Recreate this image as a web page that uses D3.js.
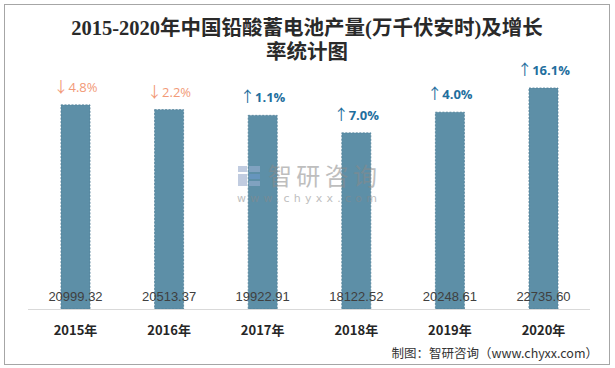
<!DOCTYPE html>
<html><head><meta charset="utf-8">
<script src="https://cdn.jsdelivr.net/npm/d3@7"></script>
<style>body{margin:0;background:#fff}svg{display:block}</style>
</head><body>
<svg id="c" width="615" height="368"></svg>
<script>
const years = ["2015年","2016年","2017年","2018年","2019年","2020年"];
const output = [20999.32,20513.37,19922.91,18122.52,20248.61,22735.60];
const growthLabels = ["4.8%","2.2%","1.1%","7.0%","4.0%","16.1%"];
const growthDir = ["down","down","up","up","up","up"];
const valueLabels = ["20999.32","20513.37","19922.91","18122.52","20248.61","22735.60"];

const svg = d3.select("#c");
svg.append("rect").attr("x",4.5).attr("y",4.5).attr("width",605).attr("height",360)
  .attr("fill","#fff").attr("stroke","#a6a6a6").attr("stroke-width",1);

const x = d3.scaleBand().domain(years).range([28.7,590.3]).paddingInner(0.69).paddingOuter(0.345);
const y = d3.scaleLinear().domain([0,25000]).range([309,66]);

const title = svg.append("text").attr("text-anchor","middle")
  .attr("font-family","'Liberation Serif','Noto Sans CJK SC',serif").attr("font-weight","bold")
  .attr("font-size",20.5).attr("fill","#2a2a2a");
title.append("tspan").attr("x",307).attr("y",35).text("2015-2020年中国铅酸蓄电池产量(万千伏安时)及增长");
title.append("tspan").attr("x",307).attr("y",59).text("率统计图");

// bars
svg.append("g").selectAll("rect").data(years).join("rect")
  .attr("x",d=>x(d)).attr("width",x.bandwidth())
  .attr("y",(d,i)=>y(output[i])).attr("height",(d,i)=>y(0)-y(output[i]))
  .attr("fill","#5d8fa7").attr("stroke","#4f7f98").attr("stroke-width",0.8).attr("stroke-dasharray","2,1.5");

// watermark
const wm = svg.append("g").attr("opacity",0.55);
wm.append("rect").attr("x",238).attr("y",166).attr("width",9).attr("height",6).attr("fill","#8fa3c8");
wm.append("rect").attr("x",249).attr("y",166).attr("width",11).attr("height",6).attr("fill","#9db2d6");
wm.append("rect").attr("x",238).attr("y",174).attr("width",9).attr("height",12).attr("fill","#8fa3c8");
wm.append("rect").attr("x",249).attr("y",174).attr("width",11).attr("height",5).attr("fill","#6f9bd0");
wm.append("rect").attr("x",249).attr("y",181).attr("width",11).attr("height",5).attr("fill","#9db2d6");
wm.append("text").attr("x",268).attr("y",185).attr("font-family","'Noto Sans CJK SC',sans-serif")
  .attr("font-size",24).attr("fill","#8a8a8a").attr("textLength",109).text("智研咨询");
wm.append("text").attr("x",237).attr("y",202).attr("font-family","'DejaVu Sans',sans-serif")
  .attr("font-size",11).attr("fill","#8a8a8a").attr("textLength",140).attr("lengthAdjust","spacing").text("www.chyxx.com");

// axis line
svg.append("line").attr("x1",28).attr("x2",590).attr("y1",309.5).attr("y2",309.5).attr("stroke","#d9d9d9").attr("stroke-width",1);

// value labels
svg.append("g").selectAll("text").data(years).join("text")
  .attr("x",d=>x(d)+x.bandwidth()/2).attr("y",301).attr("text-anchor","middle")
  .attr("font-family","'Liberation Sans','Noto Sans CJK SC',sans-serif").attr("font-size",13).attr("fill","#404040")
  .text((d,i)=>valueLabels[i]);

// year labels
svg.append("g").selectAll("text").data(years).join("text")
  .attr("x",d=>x(d)+x.bandwidth()/2).attr("y",335).attr("text-anchor","middle")
  .attr("font-family","'Noto Sans CJK SC',sans-serif").attr("font-weight","bold").attr("font-size",13).attr("fill","#262626")
  .text(d=>d);

// growth labels
const gl = svg.append("g").selectAll("text").data(years).join("text")
  .attr("x",d=>x(d)+x.bandwidth()/2).attr("y",(d,i)=>y(output[i])-13).attr("text-anchor","middle")
  .attr("font-family","'Open Sans','Noto Sans CJK SC',sans-serif").attr("font-size",13)
  .attr("font-weight",(d,i)=>growthDir[i]==="up"?"bold":"normal")
  .attr("fill",(d,i)=>growthDir[i]==="up"?"#1f6f9e":"#f29a78");
gl.append("tspan").attr("font-family","'Noto Sans CJK SC',sans-serif").attr("font-weight","normal")
  .attr("font-size",15)
  .text((d,i)=>growthDir[i]==="up"?"↑":"↓");
gl.append("tspan").text((d,i)=>growthLabels[i]);

// source
svg.append("text").attr("x",598).attr("y",358).attr("text-anchor","end")
  .attr("font-family","'Noto Sans CJK SC',sans-serif").attr("font-size",12.5).attr("fill","#333")
  .text("制图：智研咨询（www.chyxx.com）");
</script>
</body></html>
